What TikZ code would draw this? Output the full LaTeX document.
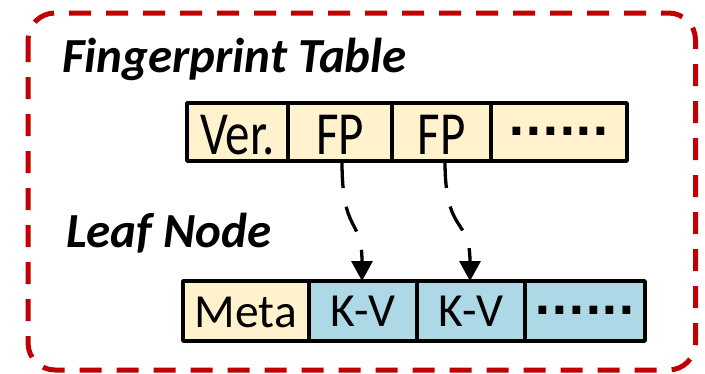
\documentclass[tikz,border=0pt]{standalone}
\usepackage{fontspec}
\setmainfont{Carlito}
\newfontfamily\dotsfont{DejaVu Sans}
\usetikzlibrary{arrows.meta,calc}
\definecolor{cream}{RGB}{255,242,204}
\definecolor{kvblue}{RGB}{173,216,230}
\definecolor{frame}{RGB}{192,0,0}
\tikzset{
  cellbox/.style={draw=black, line width=3.5pt, line join=round, rectangle,
    inner sep=0pt, outer sep=0pt, anchor=north west},
  titletext/.style={anchor=base west, inner sep=0pt,
    font=\fontsize{49}{52}\selectfont\bfseries\itshape},
  uptext/.style={anchor=base, inner sep=0pt, font=\fontsize{49}{52}\selectfont},
  lowtext/.style={anchor=base, inner sep=0pt, font=\fontsize{47.5}{52}\selectfont},
  dotstext/.style={anchor=base, inner sep=0pt, font=\dotsfont\fontsize{44}{44}\selectfont\bfseries},
  linkarrow/.style={line width=3.3pt, dash pattern=on 27pt off 19pt,
    -{Triangle[width=21pt,length=20pt]}},
}
\begin{document}
\begin{tikzpicture}[x=1pt,y=-1pt]
\useasboundingbox (0,0) rectangle (705,373);
% dashed frame
\draw[frame, line width=5pt, rounded corners=27pt, dash pattern=on 22pt off 15pt]
  (28,13) rectangle (695.5,370);

% titles
\node[titletext] (ttl1) at (62,72) {Fingerprint Table};
\node[titletext] (ttl2) at (66,247) {Leaf Node};

% fingerprint table row
\node[cellbox, fill=cream, minimum width=101pt, minimum height=58pt] (ver) at (187,103) {};
\node[cellbox, fill=cream, minimum width=104pt, minimum height=58pt] (fp1) at (288,103) {};
\node[cellbox, fill=cream, minimum width=99pt, minimum height=58pt] (fp2) at (392,103) {};
\node[cellbox, fill=cream, minimum width=136pt, minimum height=58pt] (fpd) at (491,103) {};
\node[uptext] (tver) at (ver.center |- 0,154) {\scalebox{1}[1.25]{Ver.}};
\node[uptext] (tfp1) at (fp1.center |- 0,154) {\scalebox{1}[1.25]{FP}};
\node[uptext] (tfp2) at (fp2.center |- 0,154) {\scalebox{1}[1.25]{FP}};
\node[dotstext] (tfpd) at (fpd.center |- 0,135) {......};

% leaf node row
\node[cellbox, fill=cream, minimum width=126pt, minimum height=60pt] (meta) at (183,281) {};
\node[cellbox, fill=kvblue, minimum width=108pt, minimum height=60pt] (kv1) at (309,281) {};
\node[cellbox, fill=kvblue, minimum width=108pt, minimum height=60pt] (kv2) at (417,281) {};
\node[cellbox, fill=kvblue, minimum width=120pt, minimum height=60pt] (kvd) at (525,281) {};
\node[lowtext] (tmeta) at (meta.center |- 0,327) {Meta};
\node[lowtext] (tkv1) at (kv1.center |- 0,326) {K-V};
\node[lowtext] (tkv2) at (kv2.center |- 0,326) {K-V};
\node[dotstext] (tkvd) at (kvd.center |- 0,314) {......};

% pointers from fingerprints to key-value slots
\coordinate (s1) at ([xshift=2pt]fp1.south);
\coordinate (s2) at ([xshift=3.5pt]fp2.south);
\coordinate (e1) at ([xshift=-1pt]kv1.north);
\coordinate (e2) at ([xshift=-1pt]kv2.north);
\draw[linkarrow] (s1) .. controls ($(s1)+(0,75)$) and ($(e1)+(0,-65)$) .. (e1);
\draw[linkarrow] (s2) .. controls ($(s2)+(0,75)$) and ($(e2)+(0,-65)$) .. (e2);
\end{tikzpicture}
\end{document}
